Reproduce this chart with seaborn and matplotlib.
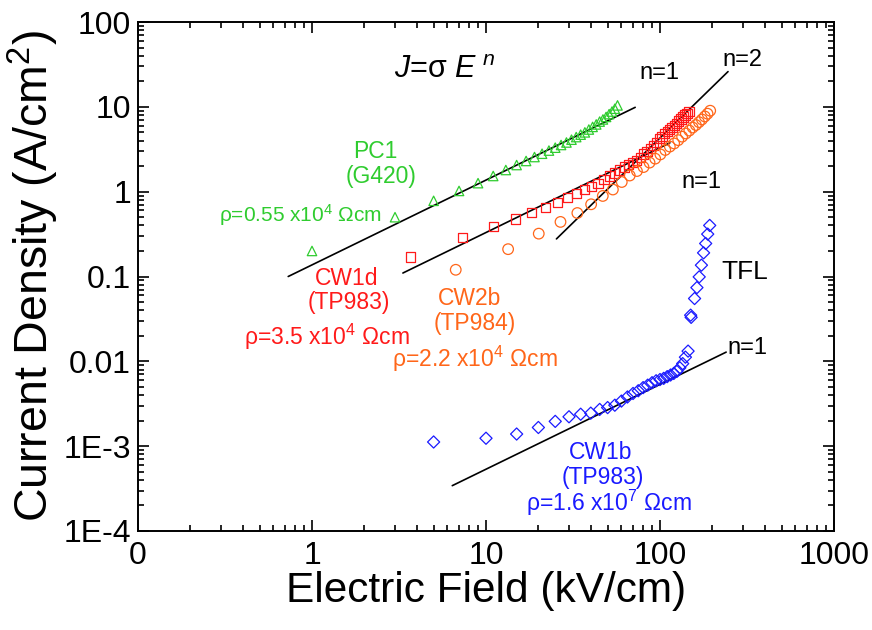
import numpy as np
import pandas as pd
import matplotlib
matplotlib.use("Agg")
import matplotlib.pyplot as plt
import seaborn as sns
from matplotlib.ticker import FixedLocator, FixedFormatter, LogLocator, NullFormatter

# --- data (E in kV/cm, J in A/cm2) ---
pc1_E = [1, 3, 5, 7, 9, 11, 13, 15, 17, 19, 21, 23, 25, 27, 29, 31, 33, 35, 37, 39,
         41, 43, 45, 47, 49, 51, 53, 55, 57]
pc1_J = [0.20, 0.50, 0.78, 1.02, 1.26, 1.53, 1.80, 2.06, 2.30, 2.56, 2.80, 3.05, 3.30,
         3.55, 3.80, 4.10, 4.40, 4.70, 5.00, 5.40, 5.80, 6.20, 6.70, 7.10, 7.60, 8.20,
         8.80, 9.50, 10.4]

cw1d_E = [3.67, 7.3, 11.0, 14.7, 18.3, 22.0, 25.7, 29.3, 33.0, 36.7, 40.3, 44.0, 47.7,
          51.3, 55.0, 58.7, 62.3, 66.0, 69.7, 73.3, 77.0, 80.7, 84.3, 88.0, 91.7, 95.3,
          99.0, 102.7, 106.3, 110.0, 113.7, 117.3, 121.0, 124.7, 128.3, 132.0, 135.7,
          139.3, 143.0, 146.7]
cw1d_J = [0.17, 0.29, 0.39, 0.475, 0.57, 0.65, 0.75, 0.86, 0.955, 1.05, 1.14, 1.26, 1.40,
          1.53, 1.66, 1.80, 1.95, 2.08, 2.20, 2.35, 2.55, 2.78, 3.00, 3.25, 3.50, 3.80,
          4.20, 4.50, 4.80, 5.10, 5.40, 5.70, 6.00, 6.40, 6.80, 7.20, 7.60, 8.00, 8.40, 8.80]

cw2b_E = [6.7, 13.4, 20.1, 26.8, 33.5, 40.2, 46.9, 53.6, 60.3, 67.0, 73.7, 80.4, 87.1,
          93.8, 100.5, 107.2, 113.9, 120.6, 127.3, 134.0, 140.7, 147.4, 154.1, 160.8,
          167.5, 174.2, 180.9, 187.6, 194.3]
cw2b_J = [0.12, 0.21, 0.32, 0.44, 0.56, 0.71, 0.89, 1.06, 1.30, 1.55, 1.75, 1.95, 2.20,
          2.45, 2.75, 3.10, 3.40, 3.70, 4.05, 4.45, 4.85, 5.25, 5.70, 6.10, 6.60, 7.10,
          7.70, 8.30, 9.00]

cw1b_E = [5, 10, 15, 20, 25, 30, 35, 40, 45, 50, 55, 60, 65, 70, 75, 80, 85, 90, 95, 100,
          105, 110, 115, 120, 125, 130, 135, 140, 145,
          150, 151, 158, 163, 168, 173, 178, 183, 188, 193]
cw1b_J = [1.12e-3, 1.24e-3, 1.39e-3, 1.66e-3, 1.96e-3, 2.22e-3, 2.38e-3, 2.45e-3, 2.71e-3,
          2.85e-3, 3.04e-3, 3.40e-3, 3.80e-3, 4.18e-3, 4.50e-3, 4.90e-3, 5.24e-3, 5.60e-3,
          5.90e-3, 6.10e-3, 6.30e-3, 6.60e-3, 6.90e-3, 7.20e-3, 7.60e-3, 8.40e-3, 9.40e-3,
          0.0112, 0.0132,
          0.035, 0.033, 0.055, 0.074, 0.099, 0.136, 0.19, 0.245, 0.316, 0.40]

# power-law guide lines J = c * E^n, drawn between E_lo and E_hi
fit_c = [0.137, 0.033, 4.3e-4, 5.35e-5]
fit_n = [1, 1, 2, 1]
fit_lo = [0.73, 3.33, 25.4, 6.4]
fit_hi = [72, 114, 246, 240]

GREEN = "#2fcc2f"
RED = "#ff1a1a"
ORANGE = "#ff6619"
BLUE = "#1a1aff"

sns.set_style("ticks")
plt.rcParams["font.family"] = ["Liberation Sans", "DejaVu Sans"]
plt.rcParams["mathtext.fontset"] = "custom"
plt.rcParams["mathtext.rm"] = "Liberation Sans"
plt.rcParams["mathtext.it"] = "Liberation Sans:italic"
plt.rcParams["mathtext.bf"] = "Liberation Sans:bold"
for k in ["text.color", "axes.labelcolor", "xtick.color", "ytick.color", "axes.edgecolor"]:
    plt.rcParams[k] = "black"

fig = plt.figure(figsize=(8.72, 6.30), dpi=100)
ax = fig.add_axes([138 / 872, 99 / 630, 696 / 872, 509 / 630])

series = [
    (pc1_E, pc1_J, "^", GREEN, 46),
    (cw1d_E, cw1d_J, "s", RED, 44),
    (cw2b_E, cw2b_J, "o", ORANGE, 58),
    (cw1b_E, cw1b_J, "D", BLUE, 38),
]
for E, J, mk, col, s in series:
    d = pd.DataFrame({"E": E, "J": J})
    sns.scatterplot(data=d, x="E", y="J", marker=mk, s=s, facecolors="none",
                    edgecolor=col, linewidth=0.9, ax=ax, legend=False, zorder=3)

for c, n, lo, hi in zip(fit_c, fit_n, fit_lo, fit_hi):
    e = np.array([lo, hi])
    d = pd.DataFrame({"E": e, "J": c * e ** n})
    sns.lineplot(data=d, x="E", y="J", color="black", linewidth=1.2, ax=ax, zorder=2)

ax.set_xscale("log")
ax.set_yscale("log")
ax.set_xlim(0.1, 1000)
ax.set_ylim(1e-4, 100)

x_ticks = [0.1, 1, 10, 100, 1000]
x_labels = ["0", "1", "10", "100", "1000"]
y_ticks = [1e-4, 1e-3, 1e-2, 0.1, 1, 10, 100]
y_labels = ["1E-4", "1E-3", "0.01", "0.1", "1", "10", "100"]
ax.xaxis.set_major_locator(FixedLocator(x_ticks))
ax.xaxis.set_major_formatter(FixedFormatter(x_labels))
ax.yaxis.set_major_locator(FixedLocator(y_ticks))
ax.yaxis.set_major_formatter(FixedFormatter(y_labels))
ax.xaxis.set_minor_locator(LogLocator(base=10, subs=np.arange(2, 10), numticks=20))
ax.yaxis.set_minor_locator(LogLocator(base=10, subs=np.arange(2, 10), numticks=20))
ax.xaxis.set_minor_formatter(NullFormatter())
ax.yaxis.set_minor_formatter(NullFormatter())

ax.tick_params(which="both", direction="in", top=True, right=True, width=1.2)
ax.tick_params(which="major", length=8, labelsize=23)
ax.tick_params(which="minor", length=4)
ax.tick_params(axis="x", which="major", pad=7)
ax.tick_params(axis="y", which="major", pad=5)
for sp in ax.spines.values():
    sp.set_linewidth(1.4)
    sp.set_visible(True)

ax.set_xlabel("Electric Field (kV/cm)", fontsize=30.5, labelpad=0)
ax.set_ylabel("Current Density (A/cm$^2$)", fontsize=33.5, labelpad=2)

def label(fx, fy, s, col="black", size=16.5):
    ax.text(fx, fy, s, transform=ax.transAxes, color=col, fontsize=size,
            ha="center", va="center")

label(0.441, 0.906, r"$J$=σ $E^{\ n}$", size=22)
label(0.749, 0.900, "n=1", size=17)
label(0.869, 0.925, "n=2", size=17)
label(0.809, 0.686, "n=1", size=17)
label(0.872, 0.509, "TFL", size=19)
label(0.876, 0.360, "n=1", size=17)

label(0.341, 0.745, "PC1", GREEN)
label(0.349, 0.697, "(G420)", GREEN)
label(0.233, 0.621, "ρ=0.55 x10$^4$ Ωcm", GREEN, 15)

label(0.300, 0.497, "CW1d", RED)
label(0.303, 0.448, "(TP983)", RED)
label(0.272, 0.381, "ρ=3.5 x10$^4$ Ωcm", RED)

label(0.477, 0.456, "CW2b", ORANGE)
label(0.484, 0.407, "(TP984)", ORANGE)
label(0.484, 0.338, "ρ=2.2 x10$^4$ Ωcm", ORANGE)

label(0.665, 0.155, "CW1b", BLUE)
label(0.668, 0.106, "(TP983)", BLUE)
label(0.677, 0.055, "ρ=1.6 x10$^7$ Ωcm", BLUE)

fig.savefig("out.png", dpi=100)
